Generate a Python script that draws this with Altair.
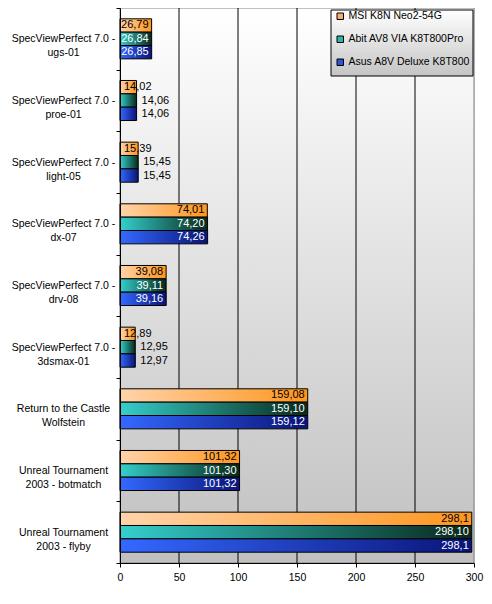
import altair as alt
import pandas as pd

categories = [
    "SpecViewPerfect 7.0 -\nugs-01",
    "SpecViewPerfect 7.0 -\nproe-01",
    "SpecViewPerfect 7.0 -\nlight-05",
    "SpecViewPerfect 7.0 -\ndx-07",
    "SpecViewPerfect 7.0 -\ndrv-08",
    "SpecViewPerfect 7.0 -\n3dsmax-01",
    "Return to the Castle\nWolfstein",
    "Unreal Tournament\n2003 - botmatch",
    "Unreal Tournament\n2003 - flyby",
]
series = ["MSI K8N Neo2-54G", "Abit AV8 VIA K8T800Pro", "Asus A8V Deluxe K8T800"]

msi_values = [26.79, 14.02, 15.39, 74.01, 39.08, 12.89, 159.08, 101.32, 298.1]
abit_values = [26.84, 14.06, 15.45, 74.20, 39.11, 12.95, 159.10, 101.30, 298.10]
asus_values = [26.85, 14.06, 15.45, 74.26, 39.16, 12.97, 159.12, 101.32, 298.1]

msi_labels = ["26,79", "14,02", "15,39", "74,01", "39,08", "12,89", "159,08", "101,32", "298,1"]
abit_labels = ["26,84", "14,06", "15,45", "74,20", "39,11", "12,95", "159,10", "101,30", "298,10"]
asus_labels = ["26,85", "14,06", "15,45", "74,26", "39,16", "12,97", "159,12", "101,32", "298,1"]

x_ticks = [0, 50, 100, 150, 200, 250, 300]
grid_values = [50, 100, 150, 200, 250]

legend_colors = ["#FBAE6A", "#2FB3AA", "#2F52D9"]
inside_text_colors = ["#000000", "#FFFFFF", "#FFFFFF"]

FONT = "Liberation Sans"
W, H = 354, 555

rows = []
for i, (s, vals, labs) in enumerate(zip(series, [msi_values, abit_values, asus_values],
                                         [msi_labels, abit_labels, asus_labels])):
    for c, v, l in zip(categories, vals, labs):
        inside = v >= 25
        if inside:
            kind, lx, tc = "inside", v, inside_text_colors[i]
        elif i == 0:
            kind, lx, tc = "start", 0, "#000000"
        else:
            kind, lx, tc = "outside", v, "#000000"
        rows.append({"cat": c, "series": s, "value": v, "label": l,
                     "kind": kind, "lx": lx, "tcolor": tc})
df = pd.DataFrame(rows)


def grad_h(c0, c1):
    return {"gradient": "linear", "x1": 0, "y1": 0, "x2": 1, "y2": 0,
            "stops": [{"offset": 0, "color": c0}, {"offset": 1, "color": c1}]}


def grad_v(c0, c1):
    return {"gradient": "linear", "x1": 0, "y1": 0, "x2": 0, "y2": 1,
            "stops": [{"offset": 0, "color": c0}, {"offset": 1, "color": c1}]}


bar_gradients = [
    grad_h("#FFD4AA", "#FF951E"),
    grad_h("#35CFCC", "#08281A"),
    grad_h("#3469FF", "#0A1478"),
]

xscale = alt.Scale(domain=[0, 300], nice=False, zero=True)
x_axis = alt.Axis(values=x_ticks, grid=False, title=None, domainColor="black",
                  tickColor="black", tickSize=4, labelFont=FONT, labelFontSize=10.5,
                  labelColor="black", labelPadding=5, zindex=1, format="d",
                  labelFlush=False)
yscale = alt.Scale(domain=categories, paddingInner=0, paddingOuter=0)
y_axis = alt.Axis(title=None, labelExpr="split(datum.label, '\\n')", labelAlign="center",
                  labelBaseline="middle", labelLineHeight=14, labelPadding=53,
                  tickBand="extent", tickSize=4, tickColor="black", domainColor="black",
                  labelFont=FONT, labelFontSize=10.5, labelColor="black", zindex=1,
                  labelLimit=0)
yoff = alt.YOffset("series:N", scale=alt.Scale(domain=series, paddingInner=0, paddingOuter=0.81))

base = alt.Chart(df).encode(
    y=alt.Y("cat:N", scale=yscale, axis=y_axis),
    yOffset=yoff,
)

background = alt.Chart(pd.DataFrame({"a": [0]})).mark_rect(
    fill=grad_v("#FFFFFF", "#C0C0C0"), stroke="#808080", strokeWidth=1
).encode(x=alt.value(0), x2=alt.value(W), y=alt.value(0), y2=alt.value(H))

grid = alt.Chart(pd.DataFrame({"g": grid_values})).mark_rule(color="black", strokeWidth=1).encode(
    x=alt.X("g:Q", scale=xscale, axis=x_axis)
)

bars = []
for s, g in zip(series, bar_gradients):
    bars.append(
        base.transform_filter(alt.datum.series == s).mark_bar(
            fill=g, stroke="black", strokeWidth=1
        ).encode(x=alt.X("value:Q", scale=xscale, axis=x_axis))
    )

txt_inside = base.transform_filter(alt.datum.kind == "inside").mark_text(
    align="right", baseline="middle", dx=-3, font=FONT, fontSize=11
).encode(x=alt.X("lx:Q", scale=xscale), text="label:N", color=alt.Color("tcolor:N", scale=None))

txt_start = base.transform_filter(alt.datum.kind == "start").mark_text(
    align="left", baseline="middle", dx=4, font=FONT, fontSize=11
).encode(x=alt.X("lx:Q", scale=xscale), text="label:N", color=alt.Color("tcolor:N", scale=None))

txt_outside = base.transform_filter(alt.datum.kind == "outside").mark_text(
    align="left", baseline="middle", dx=5, font=FONT, fontSize=11
).encode(x=alt.X("lx:Q", scale=xscale), text="label:N", color=alt.Color("tcolor:N", scale=None))

legend_box = alt.Chart(pd.DataFrame({"a": [0]})).mark_rect(
    fill=grad_v("#FFFFFF", "#C4C4C4"), stroke="black", strokeWidth=1
).encode(x=alt.value(211), x2=alt.value(353), y=alt.value(2), y2=alt.value(68))

legend_layer = base.mark_square(opacity=0).encode(
    x=alt.X("value:Q", scale=xscale),
    color=alt.Color("series:N", scale=alt.Scale(domain=series, range=legend_colors),
                    legend=alt.Legend(orient="none", legendX=215, legendY=3, title=None,
                                      symbolType="square", symbolSize=42,
                                      symbolStrokeColor="black", symbolStrokeWidth=1,
                                      symbolOpacity=1, labelFont=FONT, labelFontSize=10.5,
                                      labelColor="black", rowPadding=12, labelOffset=3,
                                      padding=0)),
)

chart = alt.layer(background, grid, *bars, txt_inside, txt_start, txt_outside,
                  legend_box, legend_layer).properties(
    width=W, height=H,
    autosize=alt.AutoSizeParams(type="none"),
    padding={"left": 112, "top": 0, "right": 10, "bottom": 30},
    background="white",
)

chart.save("out.html", embed_options={"renderer": "svg", "actions": False})
